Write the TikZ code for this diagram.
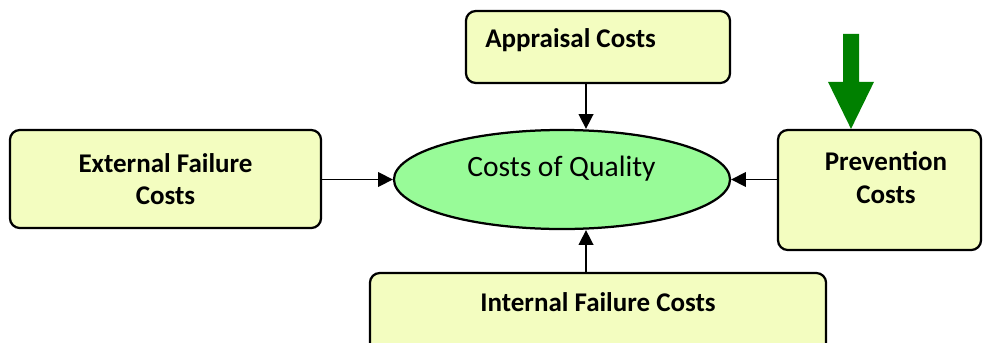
\documentclass[tikz,border=0pt]{standalone}
\usepackage{fontspec}
\setmainfont{Carlito}
\usetikzlibrary{shapes.geometric,arrows.meta}
\definecolor{boxfill}{RGB}{243,253,192}
\definecolor{corefill}{RGB}{152,251,152}
\definecolor{pushgreen}{RGB}{0,128,0}
\tikzset{
    %Define standard arrow tip
    >={Triangle[length=10.5pt,width=10.5pt]},
    costbox/.style={draw, line width=1.6pt, fill=boxfill, rounded corners=7pt, align=center,
        font=\fontsize{19.2}{23}\selectfont\bfseries},
    costtext/.style={font=\fontsize{19.2}{23}\selectfont\bfseries, inner sep=0pt, align=center},
    link/.style={->, line width=1.1pt}
}
\begin{document}
\begin{tikzpicture}[x=0.025cm,y=-0.025cm]
    \useasboundingbox (0,0) rectangle (983,342);
    \clip (0,0) rectangle (983,342);
    % the four cost boxes
    \node[costbox, minimum width=7.775cm, minimum height=2.45cm] (ext) at (165.5,179) {External Failure\\Costs};
    \node[costbox, minimum width=6.6cm, minimum height=1.8cm] (appr) at (598,47) {};
    \node[costbox, minimum width=5.075cm, minimum height=3cm] (prev) at (879.5,190) {};
    \node[costbox, minimum width=11.4cm, minimum height=2.4cm] (intl) at (598,321) {};
    \node[costtext, anchor=base west] (apprtext) at (485,47) {Appraisal Costs};
    \node[costtext] (prevtext) at (886,177.5) {Prevention\\Costs};
    \node[costtext, anchor=base] (intltext) at (598,311) {Internal Failure Costs};
    % centre
    \node[ellipse, draw, line width=1.6pt, fill=corefill, minimum width=8.4cm, minimum height=2.475cm] (quality) at (562,179.5) {};
    \node[font=\fontsize{21}{25}\selectfont, anchor=base, inner sep=0pt] (qualitytext) at (561.5,176) {Costs of Quality};
    % links
    \coordinate (lane) at (586,0);
    \coordinate (pushlane) at (851,0);
    \draw[link] (ext.east |- quality.west) -- (quality.west);
    \draw[link] (appr.south -| lane) -- (quality.north -| lane);
    \draw[link] (prev.west |- quality.east) -- (quality.east);
    \draw[link] (intl.north -| lane) -- (quality.south -| lane);
    % green push arrow
    \coordinate (push) at (prev.north -| pushlane);
    \fill[pushgreen] (push) -- ++(23,-47) -- ++(-15,0) -- ++(0,-48) -- ++(-16,0) -- ++(0,48) -- ++(-15,0) -- cycle;
\end{tikzpicture}
\end{document}
